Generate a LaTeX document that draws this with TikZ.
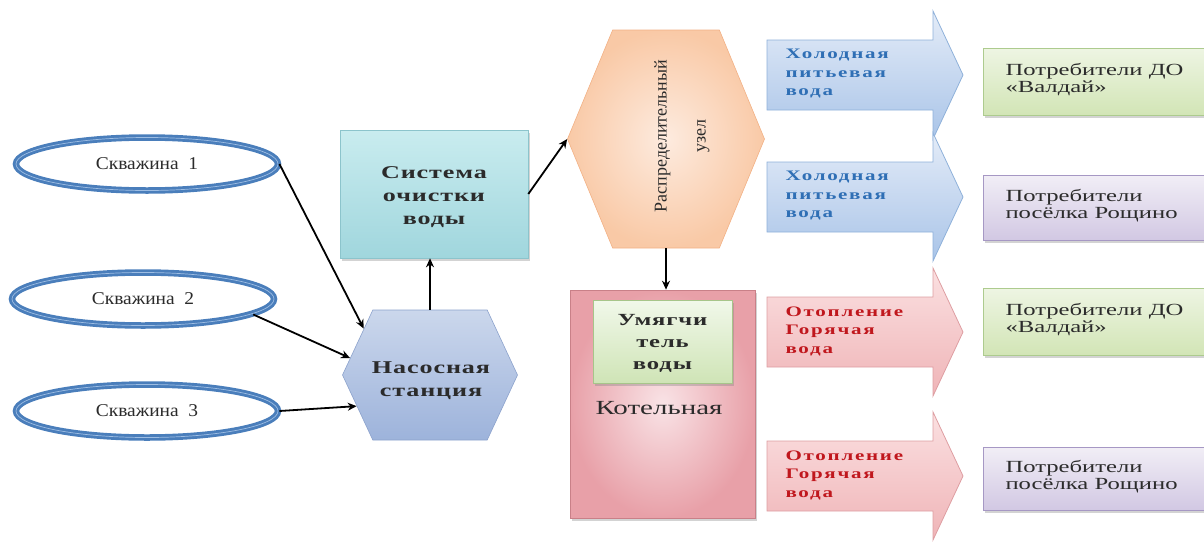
\documentclass[tikz,border=0pt]{standalone}
\usepackage{fontspec}
\setmainfont{Liberation Serif}
\newfontfamily\wellfont{Liberation Serif}[FakeStretch=1.08]
\newfontfamily\widefont{Liberation Serif}[FakeStretch=1.45]
\newfontfamily\boldwidefont{Liberation Serif}[FakeStretch=1.45,LetterSpace=5]
\newfontfamily\arrowfont{Liberation Serif}[FakeStretch=1.45,LetterSpace=12]
\usetikzlibrary{shapes.geometric,shapes.symbols,arrows.meta,shadows}

\definecolor{ringblue}{HTML}{4A7EBB}
\definecolor{ringinner}{HTML}{9DBDE3}
\definecolor{cleantop}{HTML}{C9ECEF}
\definecolor{cleanbot}{HTML}{A0D6DD}
\definecolor{cleanline}{HTML}{8CC4CC}
\definecolor{pumptop}{HTML}{CBD7EC}
\definecolor{pumpbot}{HTML}{9DB3DB}
\definecolor{pumpline}{HTML}{8CA2CC}
\definecolor{distin}{HTML}{FDEBDF}
\definecolor{distout}{HTML}{F9C9A6}
\definecolor{distline}{HTML}{F2B185}
\definecolor{boilin}{HTML}{F9E3E6}
\definecolor{boilout}{HTML}{E8A0A8}
\definecolor{boilline}{HTML}{C98088}
\definecolor{softtop}{HTML}{F1F8EA}
\definecolor{softbot}{HTML}{CFE4B6}
\definecolor{softline}{HTML}{A7C58A}
\definecolor{coldtop}{HTML}{E4ECF8}
\definecolor{coldbot}{HTML}{A9C4E8}
\definecolor{coldline}{HTML}{8FB1DA}
\definecolor{hottop}{HTML}{FBE0E1}
\definecolor{hotbot}{HTML}{EFB4B7}
\definecolor{hotline}{HTML}{DE9EA2}
\definecolor{coldtext}{HTML}{2F6FB5}
\definecolor{hottext}{HTML}{C0171D}
\definecolor{greentop}{HTML}{EEF5E3}
\definecolor{greenbot}{HTML}{D2E5B6}
\definecolor{greenline}{HTML}{ADCB8E}
\definecolor{violettop}{HTML}{F1EEF6}
\definecolor{violetbot}{HTML}{D2C8E3}
\definecolor{violetline}{HTML}{A698C4}
\definecolor{txt}{HTML}{2B2B2B}

\tikzset{
  well/.style={ellipse, draw=ringblue, line width=2.9pt, double=ringinner,
    double distance=0.7pt, fill=white, minimum width=262pt, minimum height=53pt,
    font=\wellfont\fontsize{18}{20}\selectfont, text=txt},
  softshadow/.style={drop shadow={opacity=0.35, shadow xshift=2pt, shadow yshift=-2.5pt}},
  cleanbox/.style={rectangle, draw=cleanline, line width=0.6pt, top color=cleantop,
    bottom color=cleanbot, softshadow},
  hexpump/.style={signal, signal to=east and west, signal pointer angle=130,
    draw=pumpline, line width=0.6pt, top color=pumptop, bottom color=pumpbot},
  hexdist/.style={signal, signal to=east and west, signal pointer angle=135,
    draw=distline, line width=0.6pt, inner color=distin, outer color=distout},
  boilbox/.style={rectangle, draw=boilline, line width=0.6pt, inner color=boilin,
    outer color=boilout, softshadow},
  softbox/.style={rectangle, draw=softline, line width=0.6pt, top color=softtop,
    bottom color=softbot, softshadow},
  boldtext/.style={font=\boldwidefont\bfseries\fontsize{18}{23}\selectfont, text=txt, align=center},
  coldarrow/.style={draw=coldline, line width=0.8pt, top color=coldtop, bottom color=coldbot},
  hotarrow/.style={draw=hotline, line width=0.8pt, top color=hottop, bottom color=hotbot},
  arrowlabel/.style={anchor=west, align=left, font=\arrowfont\bfseries\fontsize{14.5}{18.5}\selectfont},
  greenbox/.style={rectangle, draw=greenline, line width=0.6pt, top color=greentop,
    bottom color=greenbot, softshadow},
  violetbox/.style={rectangle, draw=violetline, line width=0.6pt, top color=violettop,
    bottom color=violetbot, softshadow},
  consumer/.style={anchor=west, align=left, text=txt,
    font=\widefont\fontsize{17}{17}\selectfont},
  link/.style={draw=black, line width=1.8pt, -{Stealth[length=9pt,width=8pt]}},
}

\begin{document}
\begin{tikzpicture}[x=1pt,y=-1pt]
\useasboundingbox (0,0) rectangle (1204,549);

% wells
\node[well] (s1) at (147,164) {Скважина\ \ 1};
\node[well] (s2) at (143,299) {Скважина\ \ 2};
\node[well] (s3) at (147,411) {Скважина\ \ 3};

% water treatment and pumping
\node[cleanbox, minimum width=188pt, minimum height=128pt] (clean) at (434,194) {};
\node[boldtext] (cleantext) at (434,197) {Система\\очистки\\воды};
\node[hexpump, minimum width=175pt, minimum height=130pt] (pump) at (430,375) {};
\node[boldtext] (pumptext) at (431,381) {Насосная\\станция};

% distribution node
\node[hexdist, minimum width=197pt, minimum height=218pt] (dist) at (666,139) {};
\node[rotate=90, align=center, text=txt, font=\fontsize{18}{19}\selectfont]
  (disttext) at (682,136) {Распределительный\\[20pt]узел};

% boiler house with softener
\node[boilbox, minimum width=185pt, minimum height=228pt] (boil) at (662.5,404) {};
\node[softbox, minimum width=139pt, minimum height=83pt] (soft) at (662.5,341.5) {};
\node[boldtext, font=\boldwidefont\bfseries\fontsize{17}{22}\selectfont] (softtext) at (662.5,343) {Умягчи\\тель\\воды};
\node[text=txt, font=\widefont\fontsize{20}{22}\selectfont] (boiltext) at (659,408) {Котельная};

% connectors
\draw[link] (s1.east) -- (pump.145);
\draw[link] (s2.-8) -- (pump.168);
\draw[link] (s3.east) -- (pump.203);
\draw[link] (pump.north) -- (pump.north |- clean.south);
\draw[link] (clean.east) -- (dist.west);
\draw[link] (dist.south) -- (dist.south |- boil.north);

% supply arrows
\foreach \cy/\st in {75/coldarrow,197/coldarrow,332/hotarrow,476/hotarrow}{
  \path[\st] (767,\cy-35) -- (933,\cy-35) -- (933,\cy-64) -- (963,\cy)
    -- (933,\cy+64) -- (933,\cy+35) -- (767,\cy+35) -- cycle;
}
\node[arrowlabel, text=coldtext] (f1) at (782,74) {Холодная\\питьевая\\вода};
\node[arrowlabel, text=coldtext] (f2) at (782,196) {Холодная\\питьевая\\вода};
\node[arrowlabel, text=hottext] (f3) at (782,331) {Отопление\\Горячая\\вода};
\node[arrowlabel, text=hottext] (f4) at (782,475) {Отопление\\Горячая\\вода};

% consumers
\node[greenbox, minimum width=232pt, minimum height=67pt, anchor=west] (c1) at (983,81.5) {};
\node[violetbox, minimum width=232pt, minimum height=65pt, anchor=west] (c2) at (983,207.5) {};
\node[greenbox, minimum width=232pt, minimum height=67pt, anchor=west] (c3) at (983,321.5) {};
\node[violetbox, minimum width=232pt, minimum height=63pt, anchor=west] (c4) at (983,478.5) {};
\node[consumer] (t1) at (1002,80) {Потребители ДО\\«Валдай»};
\node[consumer] (t2) at (1002,206) {Потребители\\посёлка Рощино};
\node[consumer] (t3) at (1002,320) {Потребители ДО\\«Валдай»};
\node[consumer] (t4) at (1002,477) {Потребители\\посёлка Рощино};
\end{tikzpicture}
\end{document}
